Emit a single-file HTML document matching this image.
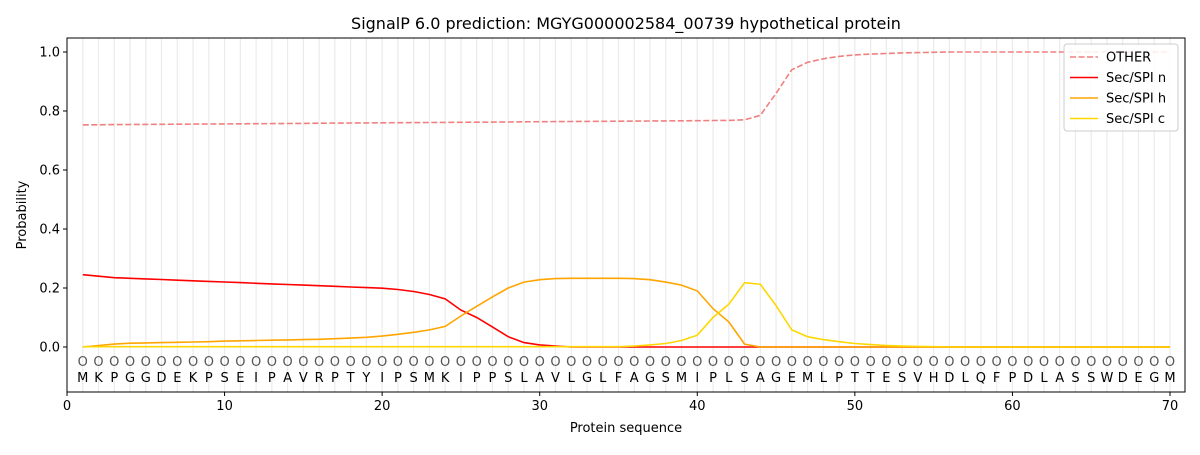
<!DOCTYPE html>
<html><head><meta charset="utf-8"><style>
body{margin:0;background:#fff;}
svg text{font-family:"DejaVu Sans","Liberation Sans",sans-serif;}
</style></head><body>
<svg id="s" width="1200" height="450" xmlns="http://www.w3.org/2000/svg"></svg>
<script>
const s=document.getElementById('s');
const X=v=>67+v*(1103/70), Y=v=>347-v*295;
let h='';
h+='<rect x="0" y="0" width="1200" height="450" fill="#fff"/>';
for(let i=1;i<=70;i++)h+=`<line x1="${X(i)}" x2="${X(i)}" y1="38" y2="392" stroke="#ebebeb" stroke-width="1.2"/>`;
const seq="MKPGGDEKPSEIPAVRPTYIPSMKIPPSLAVLGLFAGSMIPLSAGEMLPTTESVHDLQFPDLASSWDEGM";
for(let i=1;i<=70;i++){h+=`<text x="${X(i)}" y="366" font-size="13" text-anchor="middle" fill="#555">O</text>`;
h+=`<text x="${X(i)}" y="382" font-size="13" text-anchor="middle" fill="#000">${seq[i-1]}</text>`;}
function line(d,c,dash){let p=d.map((v,i)=>`${X(i+1).toFixed(1)},${Y(v).toFixed(1)}`).join(' ');
return `<polyline points="${p}" fill="none" stroke="${c}" stroke-width="1.6" ${dash?'stroke-dasharray="6,2.5"':''}/>`;}
let other=[];for(let i=1;i<=42;i++)other.push(0.753+0.015*(i-1)/41);
other.push(0.77,0.785,0.86,0.94,0.965,0.977,0.985,0.99,0.993,0.995,0.997,0.998,0.999);
while(other.length<70)other.push(1.0);
let n=[];for(let i=1;i<=20;i++)n.push(i==1?0.245:i==2?0.24:0.235-(i-3)*0.0021);
n.push(0.195,0.188,0.178,0.163,0.125,0.1,0.068,0.035,0.015,0.007,0.003);
while(n.length<70)n.push(0);
let hh=[0,0.005,0.01,0.013,0.014,0.015,0.016,0.017,0.018,0.02,0.021,0.022,0.023,0.024,0.025,0.026,0.028,0.03,0.033,0.037,0.043,0.05,0.058,0.07,0.105,0.138,0.17,0.2,0.22,0.228,0.232,0.233,0.233,0.233,0.233,0.232,0.228,0.22,0.21,0.19,0.13,0.085,0.01];
while(hh.length<70)hh.push(0);
let c=[];for(let i=1;i<=35;i++)c.push(0.001);
c.push(0.003,0.007,0.012,0.022,0.04,0.1,0.145,0.218,0.213,0.14,0.058,0.035,0.025,0.018,0.012,0.008,0.005,0.003,0.002,0.001);
while(c.length<70)c.push(0);
h+=line(other,'#f08080',true)+line(n,'#ff0000')+line(hh,'#ffa500')+line(c,'#ffd700');
h+='<rect x="67" y="38" width="1118" height="354" fill="none" stroke="#000" stroke-width="1"/>';
for(let v=0;v<=70;v+=10)h+=`<line x1="${X(v)}" x2="${X(v)}" y1="392" y2="396" stroke="#000"/><text x="${X(v)}" y="410" font-size="13" text-anchor="middle">${v}</text>`;
for(let k=0;k<=5;k++){let v=k*0.2;h+=`<line x1="63" x2="67" y1="${Y(v)}" y2="${Y(v)}" stroke="#000"/><text x="60" y="${Y(v)+4.5}" font-size="13" text-anchor="end">${v.toFixed(1)}</text>`;}
h+='<text x="626" y="432" font-size="13" text-anchor="middle">Protein sequence</text>';
h+='<text transform="translate(26,215) rotate(-90)" font-size="13" text-anchor="middle">Probability</text>';
h+='<text x="626" y="29" font-size="16" text-anchor="middle">SignalP 6.0 prediction: MGYG000002584_00739 hypothetical protein</text>';
h+='<rect x="1064" y="44" width="114" height="87" rx="3" fill="#fff" fill-opacity="0.85" stroke="#ccc"/>';
const L=[['OTHER','#f08080',1],['Sec/SPI n','#ff0000',0],['Sec/SPI h','#ffa500',0],['Sec/SPI c','#ffd700',0]];
L.forEach((l,i)=>{let y=57+i*20.5;h+=`<line x1="1070" x2="1098" y1="${y}" y2="${y}" stroke="${l[1]}" stroke-width="1.6" ${l[2]?'stroke-dasharray="6,2.5"':''}/><text x="1106" y="${y+4.5}" font-size="13">${l[0]}</text>`;});
s.innerHTML=h;
</script>
</body></html>
